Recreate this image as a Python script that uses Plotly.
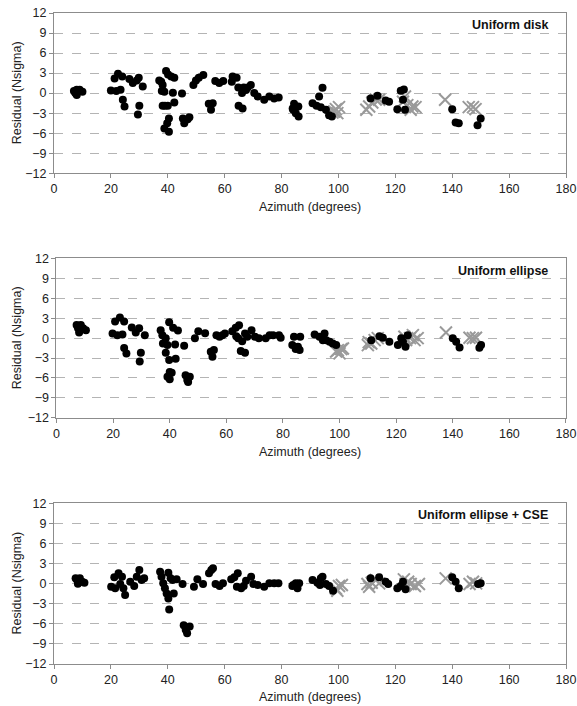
import plotly.graph_objects as go

# ---------------- DATA ----------------
# Panel 1: Uniform disk
disk_az = [7, 7.5, 8, 8, 9, 10, 20, 21.3, 21.9, 22.5, 23.4, 24, 24.2, 24.8, 26.5, 27.7, 29.1, 29.8, 30, 29.5, 31.2,
           37, 37.7, 38.2, 37.9, 38.8, 38.2, 39, 39.4, 40.1, 40, 40.4, 39.8, 38.8, 40.4, 41.2, 42.3, 41.8, 42.3,
           45, 45.3, 45.8, 47, 47.6, 49, 49.9, 50.9, 52.5, 54.4, 55.2, 55.8, 56.7, 58.1, 59.5,
           62.8, 62.5, 64.2, 64.8, 64.9, 66.3, 66.1, 66.7, 67.5, 68.1, 69.2, 70.4, 71.6, 73.9, 75.7, 77.4, 79,
           83.9, 84.4, 85, 84.1, 86, 85.9, 94.4, 93.2, 90.9, 92.3, 93.8, 95.6, 96.7, 97.7,
           111.3, 113.7, 116.6, 117.8, 120.7, 121.9, 123, 123.4, 122.7, 140, 141.2, 142.3, 150, 148.9]
disk_res = [0.3, 0.0, 0.5, -0.3, 0.5, 0.2, 0.4, 2.2, 0.3, 2.9, 0.5, 2.5, -1.0, -2.0, 2.1, 1.5, 1.9, 2.3, -1.9, -3.2, 1.0,
            1.9, 1.7, 1.2, 0.3, 0.2, -1.9, -1.9, 3.3, 2.8, -1.9, -3.8, -4.5, -5.3, -5.8, 2.5, 2.3, 0.05, -1.4,
            -0.05, -3.8, -4.5, -3.9, -3.6, 1.2, 1.9, 2.3, 2.7, -1.6, -2.5, -1.5, 1.8, 1.5, 1.8,
            2.5, 1.7, 2.3, 0.85, -1.9, -2.3, 0.0, 0.85, 0.45, 0.85, 1.2, 0.0, -0.5, -1.0, -0.5, -0.8, -0.65,
            -2.3, -1.6, -3.0, -2.5, -3.5, -2.0, 0.8, -0.5, -1.5, -1.9, -2.1, -2.5, -3.3, -3.5,
            -0.8, -0.4, -1.1, -1.3, -2.4, 0.35, 0.55, -2.5, -1.0, -2.4, -4.4, -4.5, -3.8, -4.8]
disk_x_az = [97.9, 99.1, 100.2, 99.6, 98.5, 109.8, 110.8, 111.9, 113.1, 114.3,
             122.7, 124.2, 125.4, 127.1, 126, 123.4, 137.5, 145.8, 147.3, 148.2]
disk_x_res = [-2.9, -2.4, -2.1, -3.0, -2.75, -2.5, -2.0, -1.4, -0.95, -1.0,
              -1.3, -1.8, -2.5, -2.1, -2.0, -0.5, -1.0, -2.1, -2.1, -2.4]

# Panel 2: Uniform ellipse
ell_az = [7.1, 7.6, 8, 8.6, 9.4, 10.4, 19.8, 20.7, 21.5, 22.4, 23.3, 23.9, 23.9, 24.7, 26.6, 28, 29.2, 29.8, 29.4, 31.2,
          36.8, 37.4, 37.6, 38.6, 38.6, 39.8, 39.2, 39.8, 39.2, 40, 40, 40.7, 41.2, 41.9, 42.1, 42.9,
          45.1, 45.6, 46.2, 47.1, 46.5, 48.9, 50.1, 52.5, 54.5, 55.1, 55.6, 56.5, 57.6, 58.6, 59.5,
          62.1, 63.3, 64.5, 63.5, 64.2, 65.1, 66.6, 65.6, 66.6, 67.4, 68.9, 70.1, 71.5, 73.9, 75.3, 76.5, 78.6, 79.2,
          83.9, 83.3, 84.5, 85.3, 85.9, 86.1, 91.2, 92.9, 94.7, 94.1, 95.3, 96.5, 97.6, 98.8,
          111.2, 114.1, 115.3, 117.6, 120.6, 122.4, 123.3, 121.8, 124.1, 140, 141.2, 142.4, 149.4, 150]
ell_res = [2.0, 1.5, 0.85, 2.0, 1.5, 1.2, 0.7, 2.5, 0.45, 3.1, 0.55, 2.5, -1.5, -2.3, 1.6, 0.85, 1.5, -2.2, -3.5, 0.45,
           1.2, 0.45, -0.8, 0.0, -2.2, 2.4, -1.05, -3.3, -5.8, -5.1, -6.2, -5.2, 1.55, -0.95, -3.1, 1.15,
           -1.15, -5.6, -6.3, -5.8, -6.6, 0.0, 1.05, 0.75, -2.05, -2.8, -1.8, 0.45, 0.2, 0.45, 0.7,
           1.05, 1.55, 1.95, 0.3, 0.0, -1.95, -2.2, -0.45, 0.7, 0.2, 1.2, 0.2, 0.0, 0.0, 0.45, 0.45, 0.45, 0.05,
           0.2, -1.05, -1.65, -1.3, -1.8, 0.2, 0.55, 0.2, 0.7, -0.3, -0.3, -0.55, -0.8, -1.05,
           -0.3, 0.3, 0.05, -0.55, -1.05, -0.55, -1.3, 0.0, 0.45, 0.0, -0.55, -1.4, -1.45, -1.05]
ell_x_az = [100, 100.6, 99.4, 101.2, 98.8, 110, 111.2, 112.4, 113.5, 110.3,
            122.9, 123.5, 124.9, 126.5, 127.6, 125.9, 137.6, 145.9, 147.1, 148.2]
ell_x_res = [-2.3, -1.65, -1.8, -1.55, -2.0, -1.05, -0.8, -0.3, 0.0, -0.6,
             0.2, -0.3, 0.0, -0.3, 0.0, 0.45, 0.85, 0.05, 0.0, 0.05]

# Panel 3: Uniform ellipse + CSE
cse_az = [7.6, 8.1, 8.4, 9.1, 9.9, 10.7, 20.1, 21.2, 21.5, 22.7, 23.3, 23.9, 24.4, 25, 26.8, 28.2, 29.1, 30, 30.8, 31.7,
          37.3, 37.8, 38.4, 39, 39.6, 40.2, 40.2, 40.5, 41, 41.7, 42.1, 43.1, 45.2, 45.6, 46.3, 46.8, 47.7,
          49.2, 50.4, 52.4, 54.5, 55.3, 55.9, 56.8, 58.2, 59.4,
          62.3, 63.4, 64.6, 64.3, 65.8, 66.7, 67.5, 69.3, 70.1, 71.6, 73.9, 75.7, 77.4, 78.9,
          83.8, 84.1, 85, 85.6, 86.2, 90.9, 92.6, 93.8, 94.4, 93.5, 95.6, 96.7, 98.1,
          111.3, 114.3, 116.6, 117.5, 120.7, 121.9, 123.6, 122.7, 140, 141.2, 142.3, 149.1, 150]
cse_res = [0.8, 0.55, 0.0, 0.8, 0.3, 0.15, -0.45, 0.95, -0.7, 1.55, -0.05, 1.05, -0.7, -1.7, 0.3, -0.35, 1.05, 2.05, 0.55, 0.8,
           1.8, 1.05, 0.05, -0.7, -1.45, 1.65, -2.2, -3.85, 0.8, 0.55, -1.45, 0.65, -0.05, -6.2, -6.9, -7.4, -6.4,
           -0.45, 0.65, -0.05, 1.55, 2.05, 2.3, -0.05, -0.35, 0.05,
           0.65, 0.95, 1.55, -0.45, -0.7, -0.35, 0.45, 1.05, -0.05, -0.2, -0.45, 0.05, 0.05, 0.05,
           -0.35, -0.2, 0.05, -0.7, 0.05, 0.55, 0.15, 0.8, 1.05, -0.2, -0.05, -0.35, -1.05,
           0.8, 0.95, 0.3, -0.05, -0.7, -0.35, -0.85, 0.3, 0.95, 0.3, -0.7, -0.05, 0.05]
cse_x_az = [99.1, 100.2, 101.2, 99.6, 110.2, 111.7, 113.1, 114.3, 110.8,
            123, 123.6, 125.4, 126.9, 128.3, 124.5, 137.7, 146.1, 147.3, 148.4]
cse_x_res = [-0.7, -0.35, -0.2, -1.05, -0.05, 0.15, 0.55, 0.05, -0.45,
             0.65, -0.05, -0.05, -0.35, -0.05, 0.3, 0.8, -0.05, 0.3, 0.05]

panel_titles = ["Uniform disk", "Uniform ellipse", "Uniform ellipse + CSE"]
x_title = "Azimuth (degrees)"
y_title = "Residual (Nsigma)"
x_ticks = [0, 20, 40, 60, 80, 100, 120, 140, 160, 180]
y_ticks = [-12, -9, -6, -3, 0, 3, 6, 9, 12]

panels = [
    (disk_az, disk_res, disk_x_az, disk_x_res),
    (ell_az, ell_res, ell_x_az, ell_x_res),
    (cse_az, cse_res, cse_x_az, cse_x_res),
]

# ---------------- FIGURE ----------------
W, H = 577, 706
PLOT_L, PLOT_R, PLOT_T, PLOT_B = 54, 566.5, 12.7, 664   # window pixels
ML, MR = PLOT_L, W - PLOT_R
MT, MB = PLOT_T, H - PLOT_B
PW, PH = W - ML - MR, H - MT - MB


def clamp(v):
    return min(1.0, max(0.0, v))


def py(pix):  # pixel row -> paper y
    return (PLOT_B - pix) / PH


def px(pix):  # pixel col -> paper x
    return (pix - PLOT_L) / PW


ydomains = [[clamp(py(173)), clamp(py(12.7))],
            [clamp(py(417.7)), clamp(py(258.3))],
            [clamp(py(664)), clamp(py(503.3))]]
xdomains = [[0.0, 1.0], [clamp(px(56.5)), 1.0], [0.0, 1.0]]
label_rows = [25, 271, 515]
xtitle_rows = [207, 452, 697]
ycenters = [92.9, 338, 583.5]

FONT = "Liberation Sans, Arial, sans-serif"
AXL = "#8c8c8c"

fig = go.Figure()
layout = dict(
    width=W, height=H,
    margin=dict(l=ML, r=MR, t=MT, b=MB, autoexpand=False),
    paper_bgcolor="white", plot_bgcolor="white",
    showlegend=False,
    font=dict(family=FONT, size=12, color="#222"),
)

annotations = []
for i, (az, res, xaz, xres) in enumerate(panels):
    sfx = "" if i == 0 else str(i + 1)
    xa, ya = "x" + sfx, "y" + sfx
    fig.add_trace(go.Scatter(
        x=xaz, y=xres, mode="markers", xaxis=xa, yaxis=ya,
        marker=dict(symbol="x-thin", size=12, line=dict(color="#9a9a9a", width=2), color="#9a9a9a"),
        hoverinfo="skip"))
    fig.add_trace(go.Scatter(
        x=az, y=res, mode="markers", xaxis=xa, yaxis=ya,
        marker=dict(symbol="circle", size=8, color="black"),
        hoverinfo="skip"))
    layout["xaxis" + sfx] = dict(
        domain=xdomains[i], anchor=ya, range=[0, 180], tickvals=x_ticks,
        showgrid=False, zeroline=False, showline=True, linecolor=AXL, linewidth=1,
        mirror=True, ticks="outside", ticklen=4, tickcolor=AXL, automargin=False,
        ticklabeloverflow="allow",
        tickfont=dict(size=12.5, family=FONT, color="#222"),
    )
    layout["yaxis" + sfx] = dict(
        domain=ydomains[i], anchor=xa, range=[-12, 12], tickvals=y_ticks,
        showgrid=True, gridcolor="#b4b4b4", griddash="dash", gridwidth=1,
        zeroline=False, showline=True, linecolor=AXL, linewidth=1,
        mirror=True, ticks="outside", ticklen=4, tickcolor=AXL, automargin=False,
        ticklabeloverflow="allow",
        tickfont=dict(size=12.5, family=FONT, color="#222"),
    )
    annotations.append(dict(
        text="<b>" + panel_titles[i] + "</b>", xref="paper", yref="paper",
        x=px(550), y=py(label_rows[i]), xanchor="right", yanchor="middle", showarrow=False,
        font=dict(size=12.5, family=FONT, color="#111")))
    annotations.append(dict(
        text=x_title, xref="paper", yref="paper",
        x=px(310.5), y=py(xtitle_rows[i]), xanchor="center", yanchor="middle", showarrow=False,
        font=dict(size=12.5, family=FONT, color="#222")))
    annotations.append(dict(
        text=y_title, xref="paper", yref="paper", textangle=-90,
        x=px(17), y=py(ycenters[i]), xanchor="center", yanchor="middle", showarrow=False,
        font=dict(size=12.5, family=FONT, color="#222")))

layout["annotations"] = annotations
fig.update_layout(**layout)
# remove the default page margin so the figure sits at the window's top-left corner
fig.write_html("out.html", config={"displayModeBar": False},
               post_script="document.body.style.margin='0';document.body.style.overflow='hidden';")
